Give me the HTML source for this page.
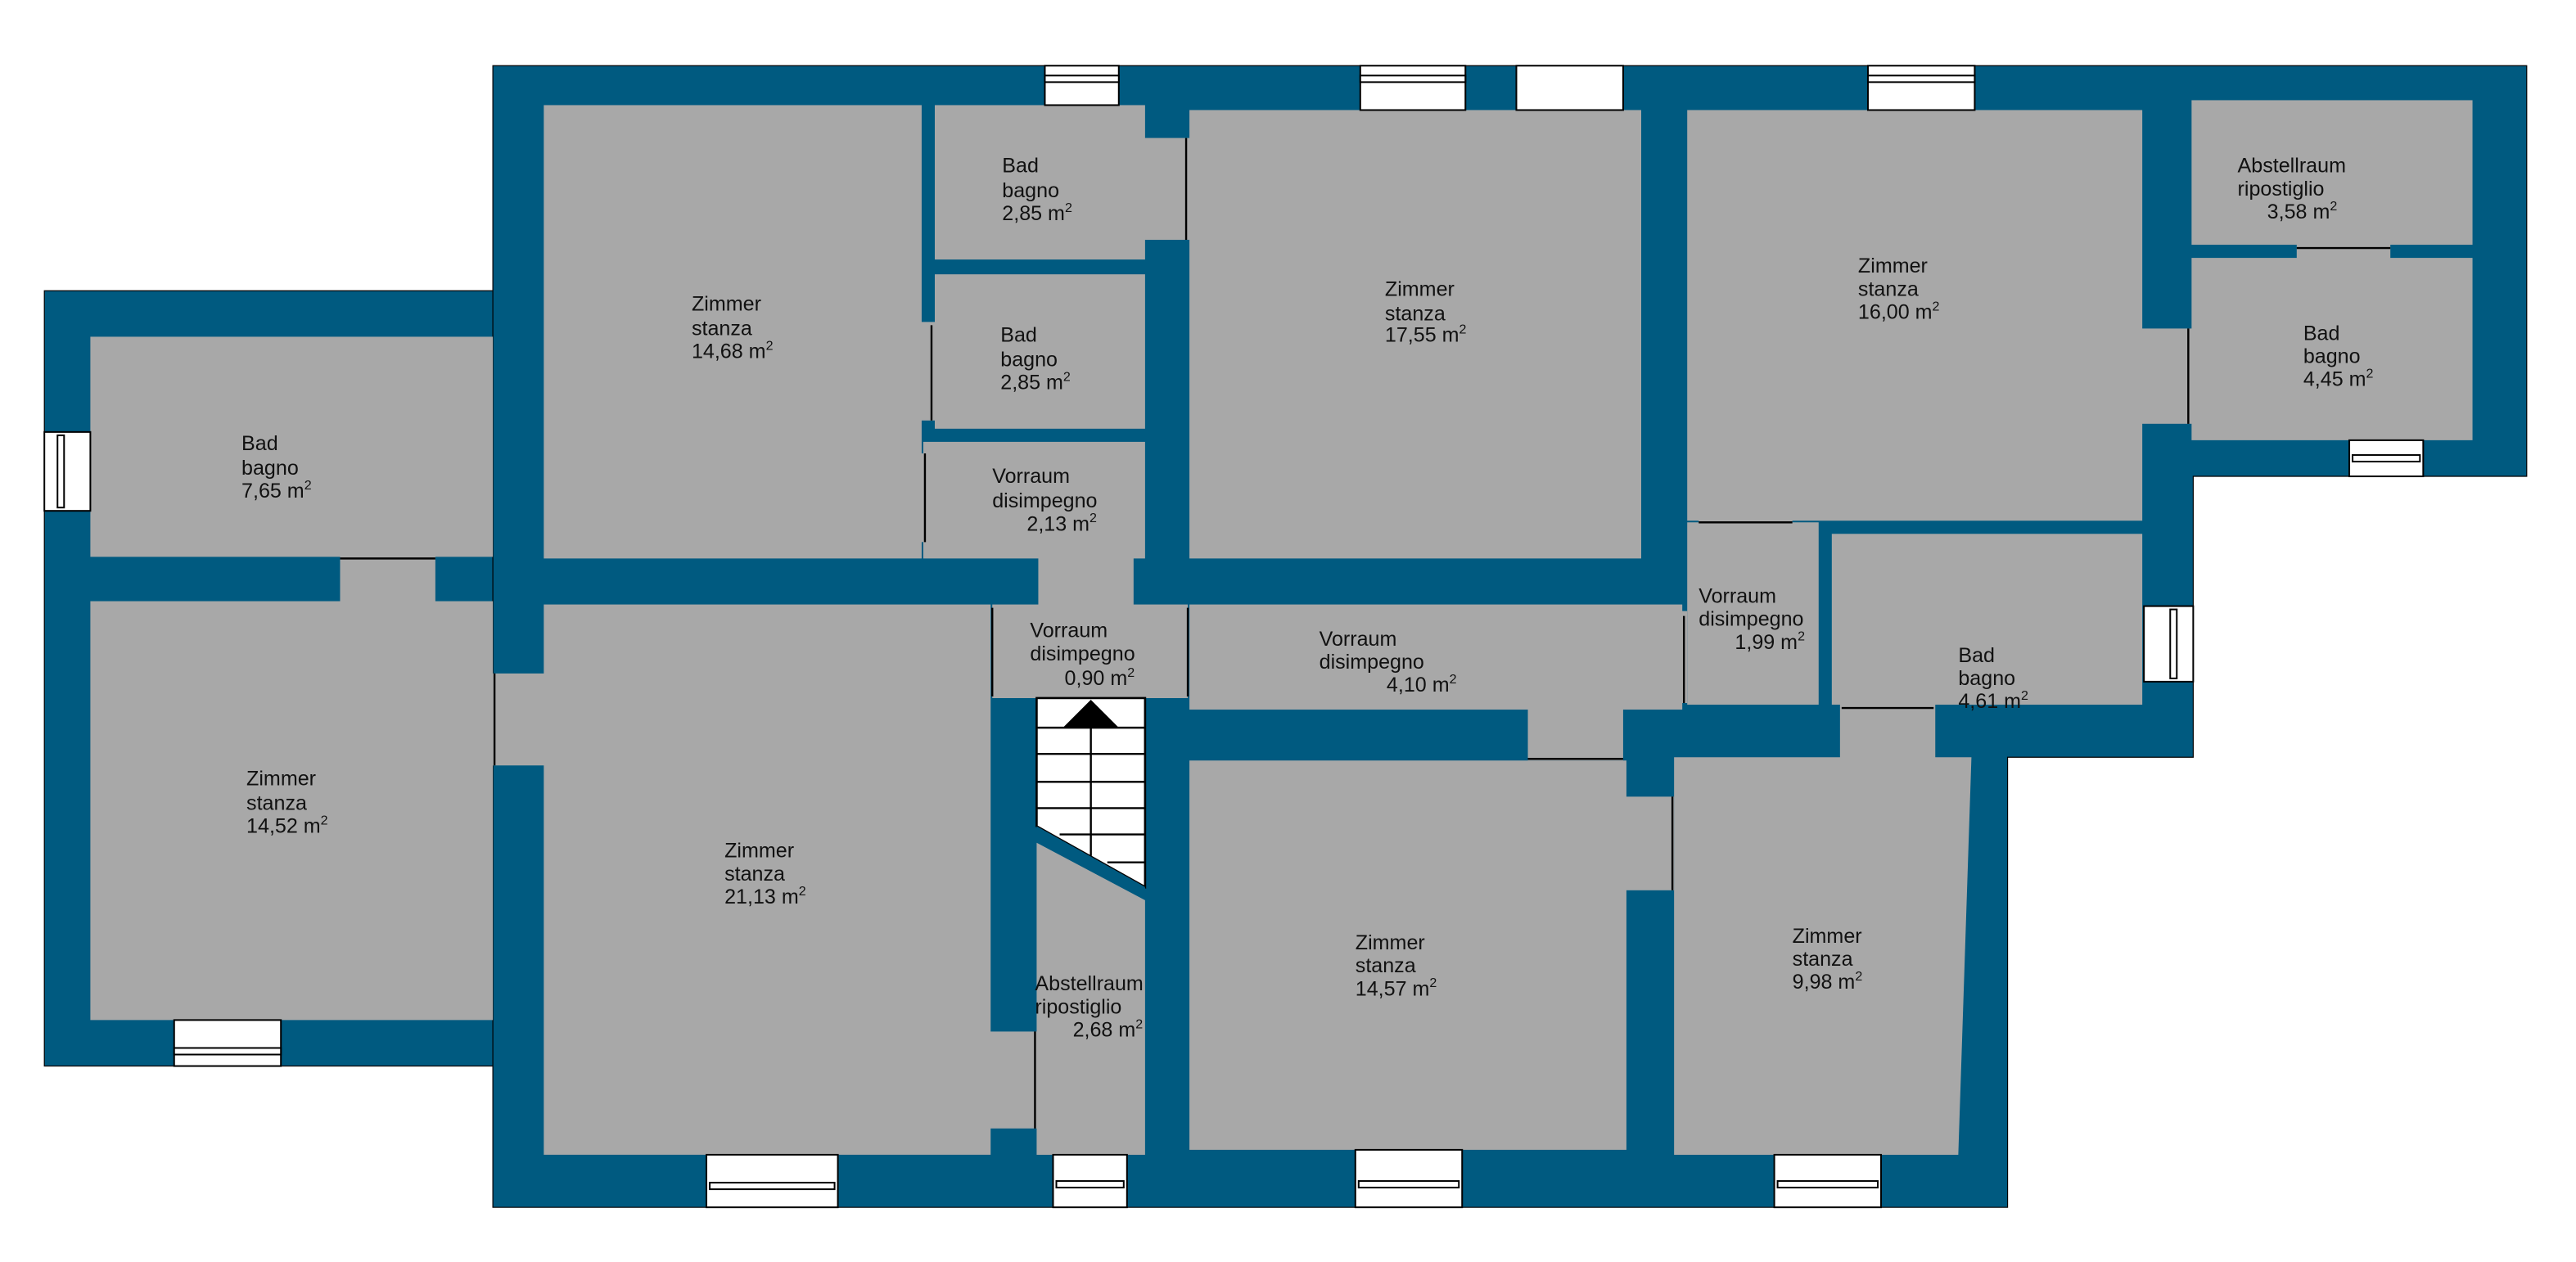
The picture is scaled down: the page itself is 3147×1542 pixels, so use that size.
<!DOCTYPE html>
<html><head><meta charset="utf-8"><style>
html,body{margin:0;padding:0;background:#fff;}
svg{display:block}
text{font-family:"Liberation Sans",sans-serif;font-size:12.5px;fill:#111}
</style></head><body>
<svg width="3147" height="1542" viewBox="0 0 1568 768.3" preserveAspectRatio="none" xmlns="http://www.w3.org/2000/svg">
<rect width="1568" height="768.3" fill="#fff"/>
<g fill="#005a80" stroke="#000" stroke-width="0.6">
<rect x="27" y="177" width="274" height="472"/>
<polygon points="300,40 1538,40 1538,290 1335,290 1335,461 1222,461 1222,735 300,735"/>
</g>
<g fill="#a8a8a8">
<rect x="55" y="205" width="245" height="134"/>
<rect x="55" y="366" width="245" height="255"/>
<rect x="207" y="338" width="58" height="30"/>
<rect x="331" y="64" width="230" height="276"/>
<rect x="569" y="64" width="128" height="94"/>
<rect x="569" y="167" width="128" height="94"/>
<rect x="562" y="269" width="135" height="71"/>
<rect x="560" y="196" width="10" height="60"/>
<rect x="696" y="84" width="29" height="62"/>
<rect x="560" y="276" width="3" height="54"/>
<rect x="724" y="67" width="275" height="273"/>
<rect x="1027" y="67" width="277" height="250"/>
<rect x="1334" y="61" width="171" height="88"/>
<rect x="1334" y="157" width="171" height="111"/>
<rect x="1398" y="148" width="57" height="10"/>
<rect x="1303" y="200" width="32" height="58"/>
<rect x="1027" y="318" width="80" height="111"/>
<rect x="1034" y="316" width="57" height="4"/>
<rect x="1115" y="325" width="189" height="104"/>
<rect x="604" y="368" width="119" height="57"/>
<rect x="632" y="338" width="58" height="32"/>
<rect x="724" y="368" width="300" height="64"/>
<rect x="995" y="372" width="32" height="56"/>
<rect x="930" y="430" width="58" height="33"/>
<rect x="331" y="368" width="272" height="335"/>
<rect x="299" y="410" width="34" height="56"/>
<rect x="601" y="628" width="31" height="59"/>
<polygon points="631,513 697,548 697,703 631,703"/>
<rect x="724" y="463" width="266" height="237"/>
<rect x="988" y="485" width="31" height="57"/>
<polygon points="1019,461 1200,461 1192,703 1019,703"/>
<rect x="1120" y="428" width="58" height="35"/>
</g>
<!-- stairs -->
<polygon points="631,425 697,425 697,540 631,503" fill="#fff" stroke="#000" stroke-width="1.3"/>
<polygon points="631,503 697,540 697,548 631,513" fill="#005a80"/>
<g stroke="#000" stroke-width="1.2">
<line x1="631" y1="443" x2="697" y2="443"/><line x1="631" y1="459" x2="697" y2="459"/>
<line x1="631" y1="476" x2="697" y2="476"/><line x1="631" y1="492" x2="697" y2="492"/>
<line x1="645" y1="508" x2="697" y2="508"/><line x1="674" y1="525" x2="697" y2="525"/>
<line x1="664" y1="443" x2="664" y2="521"/>
</g>
<polygon points="664,426 647,443 681,443" fill="#000"/>
<!-- door lines -->
<g stroke="#000" stroke-width="1.2" fill="none">
<line x1="207" y1="340" x2="265" y2="340"/>
<line x1="301" y1="410" x2="301" y2="466"/>
<line x1="567" y1="198" x2="567" y2="256"/>
<line x1="722" y1="84" x2="722" y2="146"/>
<line x1="563" y1="276" x2="563" y2="330"/>
<line x1="1332" y1="200" x2="1332" y2="258"/>
<line x1="1398" y1="151" x2="1455" y2="151"/>
<line x1="1034" y1="318" x2="1091" y2="318"/>
<line x1="1025" y1="375" x2="1025" y2="428"/>
<line x1="604" y1="370" x2="604" y2="424"/>
<line x1="723" y1="370" x2="723" y2="424"/>
<line x1="930" y1="462" x2="988" y2="462"/>
<line x1="1018" y1="485" x2="1018" y2="542"/>
<line x1="1121" y1="431" x2="1177" y2="431"/>
<line x1="630" y1="628" x2="630" y2="687"/>
</g>
<!-- windows -->
<g fill="#fff" stroke="#000" stroke-width="1">
<rect x="636" y="40" width="45" height="24"/><rect x="636" y="46" width="45" height="4"/>
<rect x="828" y="40" width="64" height="27"/><rect x="828" y="46" width="64" height="4"/>
<rect x="923" y="40" width="65" height="27"/>
<rect x="1137" y="40" width="65" height="27"/><rect x="1137" y="46" width="65" height="4"/>
<rect x="1430" y="268" width="45" height="22"/><rect x="1432" y="277" width="41" height="4"/>
<rect x="27" y="263" width="28" height="48"/><rect x="35" y="265" width="4" height="44"/>
<rect x="1305" y="369" width="30" height="46"/><rect x="1321" y="371" width="4" height="42"/>
<rect x="106" y="621" width="65" height="28"/><rect x="106" y="638" width="65" height="4"/>
<rect x="430" y="703" width="80" height="32"/><rect x="432" y="720" width="76" height="4"/>
<rect x="641" y="703" width="45" height="32"/><rect x="643" y="719" width="41" height="4"/>
<rect x="825" y="700" width="65" height="35"/><rect x="827" y="719" width="61" height="4"/>
<rect x="1080" y="703" width="65" height="32"/><rect x="1082" y="719" width="61" height="4"/>
</g>
<!-- labels -->
<g>
<text x="147" y="274">Bad</text><text x="147" y="289">bagno</text><text x="147" y="303">7,65 m<tspan dy="-5" font-size="8">2</tspan></text>
<text x="421" y="189">Zimmer</text><text x="421" y="204">stanza</text><text x="421" y="218">14,68 m<tspan dy="-5" font-size="8">2</tspan></text>
<text x="610" y="105">Bad</text><text x="610" y="120">bagno</text><text x="610" y="134">2,85 m<tspan dy="-5" font-size="8">2</tspan></text>
<text x="609" y="208">Bad</text><text x="609" y="223">bagno</text><text x="609" y="237">2,85 m<tspan dy="-5" font-size="8">2</tspan></text>
<text x="604" y="294">Vorraum</text><text x="604" y="309">disimpegno</text><text x="625" y="323">2,13 m<tspan dy="-5" font-size="8">2</tspan></text>
<text x="843" y="180">Zimmer</text><text x="843" y="195">stanza</text><text x="843" y="208">17,55 m<tspan dy="-5" font-size="8">2</tspan></text>
<text x="1131" y="166">Zimmer</text><text x="1131" y="180">stanza</text><text x="1131" y="194">16,00 m<tspan dy="-5" font-size="8">2</tspan></text>
<text x="1362" y="105">Abstellraum</text><text x="1362" y="119">ripostiglio</text><text x="1380" y="133">3,58 m<tspan dy="-5" font-size="8">2</tspan></text>
<text x="1402" y="207">Bad</text><text x="1402" y="221">bagno</text><text x="1402" y="235">4,45 m<tspan dy="-5" font-size="8">2</tspan></text>
<text x="1034" y="367">Vorraum</text><text x="1034" y="381">disimpegno</text><text x="1056" y="395">1,99 m<tspan dy="-5" font-size="8">2</tspan></text>
<text x="1192" y="403">Bad</text><text x="1192" y="417">bagno</text><text x="1192" y="431">4,61 m<tspan dy="-5" font-size="8">2</tspan></text>
<text x="627" y="388">Vorraum</text><text x="627" y="402">disimpegno</text><text x="648" y="417">0,90 m<tspan dy="-5" font-size="8">2</tspan></text>
<text x="803" y="393">Vorraum</text><text x="803" y="407">disimpegno</text><text x="844" y="421">4,10 m<tspan dy="-5" font-size="8">2</tspan></text>
<text x="150" y="478">Zimmer</text><text x="150" y="493">stanza</text><text x="150" y="507">14,52 m<tspan dy="-5" font-size="8">2</tspan></text>
<text x="441" y="522">Zimmer</text><text x="441" y="536">stanza</text><text x="441" y="550">21,13 m<tspan dy="-5" font-size="8">2</tspan></text>
<text x="630" y="603">Abstellraum</text><text x="630" y="617">ripostiglio</text><text x="653" y="631">2,68 m<tspan dy="-5" font-size="8">2</tspan></text>
<text x="825" y="578">Zimmer</text><text x="825" y="592">stanza</text><text x="825" y="606">14,57 m<tspan dy="-5" font-size="8">2</tspan></text>
<text x="1091" y="574">Zimmer</text><text x="1091" y="588">stanza</text><text x="1091" y="602">9,98 m<tspan dy="-5" font-size="8">2</tspan></text>
</g>
</svg>
</body></html>
